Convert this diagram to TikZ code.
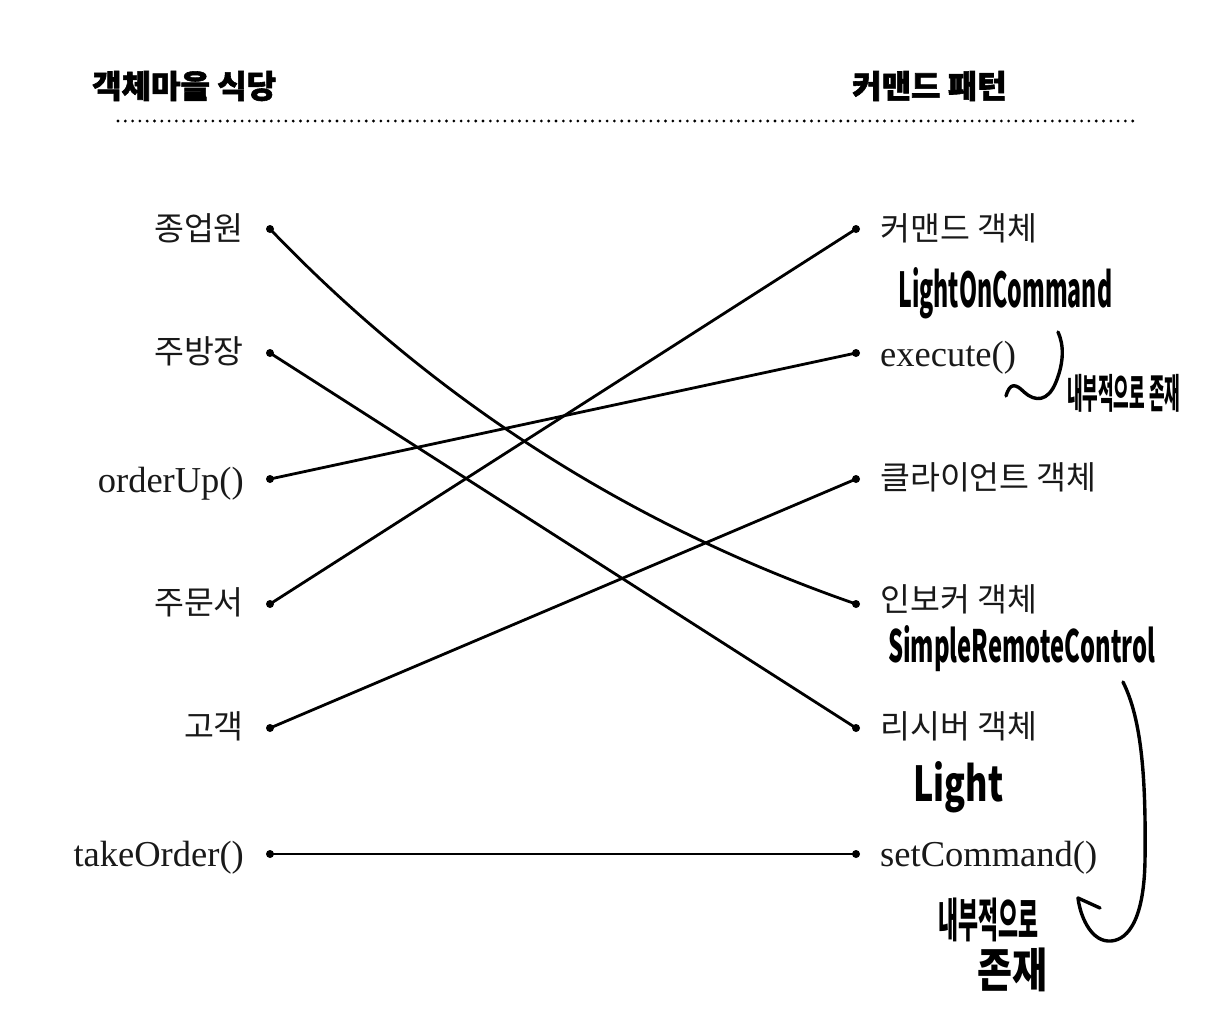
\documentclass[tikz,border=0pt]{standalone}
\usepackage{fontspec}
\usepackage{graphicx}
\setmainfont{Liberation Serif}
\newfontfamily\kr{Noto Sans CJK KR}
\newfontfamily\krtitle[FakeBold=1.8]{Noto Sans CJK KR}
\tikzset{
  dotn/.style={circle,fill=black,inner sep=0pt,minimum size=8pt},
  conn/.style={line width=2.8pt,black},
  latlab/.style={inner sep=0pt,font=\fontsize{36.5}{40}\selectfont,text=black!90},
  krlab/.style={inner sep=0pt,font=\kr\fontsize{32.5}{36}\selectfont,text=black!90},
  titlelab/.style={inner sep=0pt,anchor=west,font=\krtitle\bfseries\fontsize{32}{36}\selectfont},
  hand/.style={inner sep=0pt,font=\kr\bfseries},
  stroke/.style={line width=3.4pt,line cap=round,line join=round}
}
\begin{document}
\begin{tikzpicture}[x=1pt,y=-1pt]
\useasboundingbox[fill=white] (0,0) rectangle (1230,1018);
% titles
\node[titlelab] (t1) at (92,86) {객체마을 식당};
\node[titlelab] (t2) at (852,86) {커맨드 패턴};
\coordinate (d1) at (118,121);
\coordinate (d2) at (1136,121);
\draw[line width=3.1pt,line cap=round,dash pattern=on 0pt off 7.3pt,black] (d1) -- (d2);
% dots
\foreach \i/\y in {0/229,1/353,2/479,3/604,4/728,5/854}{
  \node[dotn] (L\i) at (270,\y) {};
  \node[dotn] (R\i) at (856,\y) {};
}
% left labels
\node[krlab,anchor=mid east] (l0) at (244,238) {종업원};
\node[krlab,anchor=mid east] (l1) at (244,361) {주방장};
\node[latlab,anchor=mid east] (l2) at (244,490) {orderUp()};
\node[krlab,anchor=mid east] (l3) at (244,612) {주문서};
\node[krlab,anchor=mid east] (l4) at (244,736) {고객};
\node[latlab,anchor=mid east] (l5) at (244,864) {takeOrder()};
% right labels
\node[krlab,anchor=mid west] (r0) at (880,238) {커맨드 객체};
\node[latlab,anchor=mid west] (r1) at (880,364) {execute()};
\node[krlab,anchor=mid west] (r2) at (880,487) {클라이언트 객체};
\node[krlab,anchor=mid west] (r3) at (880,609) {인보커 객체};
\node[krlab,anchor=mid west] (r4) at (880,736) {리시버 객체};
\node[latlab,anchor=mid west] (r5) at (880,864) {setCommand()};
% connectors
\draw[conn] (L0.center) .. controls (435,401) and (631,526) .. (R3.center);
\draw[conn] (L1.center) -- (R4.center);
\draw[conn] (L2.center) -- (R1.center);
\draw[conn] (L3.center) -- (R0.center);
\draw[conn] (L4.center) -- (R2.center);
\draw[conn] (L5.center) -- (R5.center);
% handwritten annotations
\node[hand,anchor=base west] (h1) at (898,307) {\resizebox{214pt}{40pt}{LightOnCommand}};
\node[hand,anchor=south west] (h2) at (1067,413) {\resizebox*{113pt}{38pt}{내부적으로 존재}};
\node[hand,anchor=base west] (h3) at (888,662) {\resizebox{267pt}{37pt}{SimpleRemoteControl}};
\node[hand,anchor=base west] (h4) at (913,801) {\resizebox{90pt}{40pt}{Light}};
\node[hand,anchor=south west] (h5) at (938,942) {\resizebox*{100pt}{44pt}{내부적으로}};
\node[hand,anchor=south west] (h6) at (977,992) {\resizebox*{70pt}{44pt}{존재}};
% hand-drawn strokes
\draw[stroke] (1006,396) .. controls (1010,382) and (1016,384) .. (1024,392)
  .. controls (1035,402) and (1048,402) .. (1056,382)
  .. controls (1064,362) and (1064,345) .. (1058,332);
\draw[stroke] (1123,682) .. controls (1142,720) and (1146,780) .. (1145,860)
  .. controls (1144,925) and (1125,942) .. (1108,941)
  .. controls (1090,940) and (1080,915) .. (1078,898);
\draw[stroke] (1078,898) -- (1100,908);
\end{tikzpicture}
\end{document}
